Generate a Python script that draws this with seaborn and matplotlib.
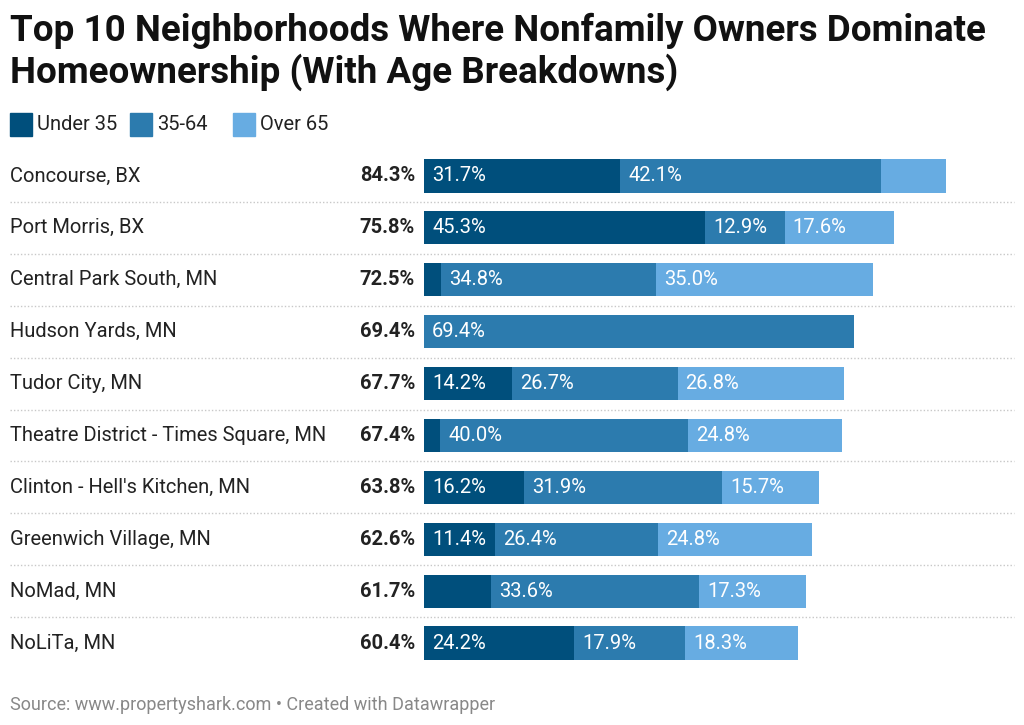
import numpy as np
import pandas as pd
import matplotlib
matplotlib.use("Agg")
import matplotlib.pyplot as plt
import seaborn as sns
from matplotlib.transforms import blended_transform_factory
from matplotlib.patches import Rectangle

neighborhoods = ["Concourse, BX", "Port Morris, BX", "Central Park South, MN", "Hudson Yards, MN",
                 "Tudor City, MN", "Theatre District - Times Square, MN", "Clinton - Hell's Kitchen, MN",
                 "Greenwich Village, MN", "NoMad, MN", "NoLiTa, MN"]
totals = [84.3, 75.8, 72.5, 69.4, 67.7, 67.4, 63.8, 62.6, 61.7, 60.4]
under_35 = [31.7, 45.3, 2.7, 0.0, 14.2, 2.6, 16.2, 11.4, 10.8, 24.2]
age_35_64 = [42.1, 12.9, 34.8, 69.4, 26.7, 40.0, 31.9, 26.4, 33.6, 17.9]
over_65 = [10.5, 17.6, 35.0, 0.0, 26.8, 24.8, 15.7, 24.8, 17.3, 18.3]
# which segment values carry a label in the bar
show_u35 = [True, True, False, False, True, False, True, True, False, True]
show_mid = [True, True, True, True, True, True, True, True, True, True]
show_o65 = [False, True, True, False, True, True, True, True, True, True]

series = ["Under 35", "35-64", "Over 65"]
colors = ["#004f7c", "#2c7bae", "#67ace2"]

df = pd.DataFrame({"name": neighborhoods, "total": totals, "u35": under_35,
                   "mid": age_35_64, "o65": over_65})
df["cum1"] = df["u35"]
df["cum2"] = df["u35"] + df["mid"]
df["cum3"] = df["cum2"] + df["o65"]

sns.set_style("white")
plt.rcParams["font.family"] = ["Roboto", "DejaVu Sans"]

fig = plt.figure(figsize=(10.24, 7.25), dpi=100)
W, H = 1024, 725
ax = fig.add_axes([424 / W, 1 - 669 / H, 590 / W, 519 / H])

for col, c in zip(["cum3", "cum2", "cum1"], colors[::-1]):
    sns.barplot(data=df, x=col, y="name", color=c, orient="h", width=0.64,
                saturation=1, ax=ax, edgecolor="none")

ax.set_xlim(0, 84.3 * 590 / 522.5)
ax.set_ylim(9.5, -0.5)
ax.set_xlabel("")
ax.set_ylabel("")
ax.set_xticks([])
ax.set_yticks([])
sns.despine(ax=ax, left=True, bottom=True)

fs = 14.5
# segment labels
for i in range(len(df)):
    starts = [0, df["cum1"][i], df["cum2"][i]]
    vals = [df["u35"][i], df["mid"][i], df["o65"][i]]
    shows = [show_u35[i], show_mid[i], show_o65[i]]
    for s, v, sh in zip(starts, vals, shows):
        if sh:
            ax.text(s + 1.3, i, f"{v:.1f}%", color="white", fontsize=fs,
                    va="center", ha="left")

trans = blended_transform_factory(fig.transFigure, ax.transData)
for i, (n, t) in enumerate(zip(neighborhoods, totals)):
    ax.text(10 / W, i, n, transform=trans, fontsize=fs, color="#222222",
            va="center", ha="left")
    ax.text(415 / W, i, f"{t:.1f}%", transform=trans, fontsize=fs, color="#222222",
            fontweight="bold", va="center", ha="right")

# dotted separators
for i in range(len(df) - 1):
    ax.axhline(i + 0.5, xmin=(10 - 424) / 590, xmax=1, color="#c8c8c8", lw=1,
               ls=(0, (1, 1.5)), clip_on=False)

fig.text(10 / W, 1 - 31 / H, "Top 10 Neighborhoods Where Nonfamily Owners Dominate",
         fontsize=26.5, fontweight="bold", color="#111111", va="center", ha="left")
fig.text(10 / W, 1 - 72 / H, "Homeownership (With Age Breakdowns)",
         fontsize=26.5, fontweight="bold", color="#111111", va="center", ha="left")

# legend
lx = [10, 130, 233]
for x0, lab, c in zip(lx, series, colors):
    fig.patches.append(Rectangle((x0 / W, 1 - 136 / H), 22 / W, 23 / H, color=c,
                                 transform=fig.transFigure, figure=fig))
    fig.text((x0 + 27) / W, 1 - 124 / H, lab, fontsize=fs, color="#222222", va="center", ha="left")

fig.text(10 / W, 1 - 705 / H, "Source: www.propertyshark.com • Created with Datawrapper",
         fontsize=13, color="#888888", va="center", ha="left")

fig.savefig("out.png", dpi=100, facecolor="white")
